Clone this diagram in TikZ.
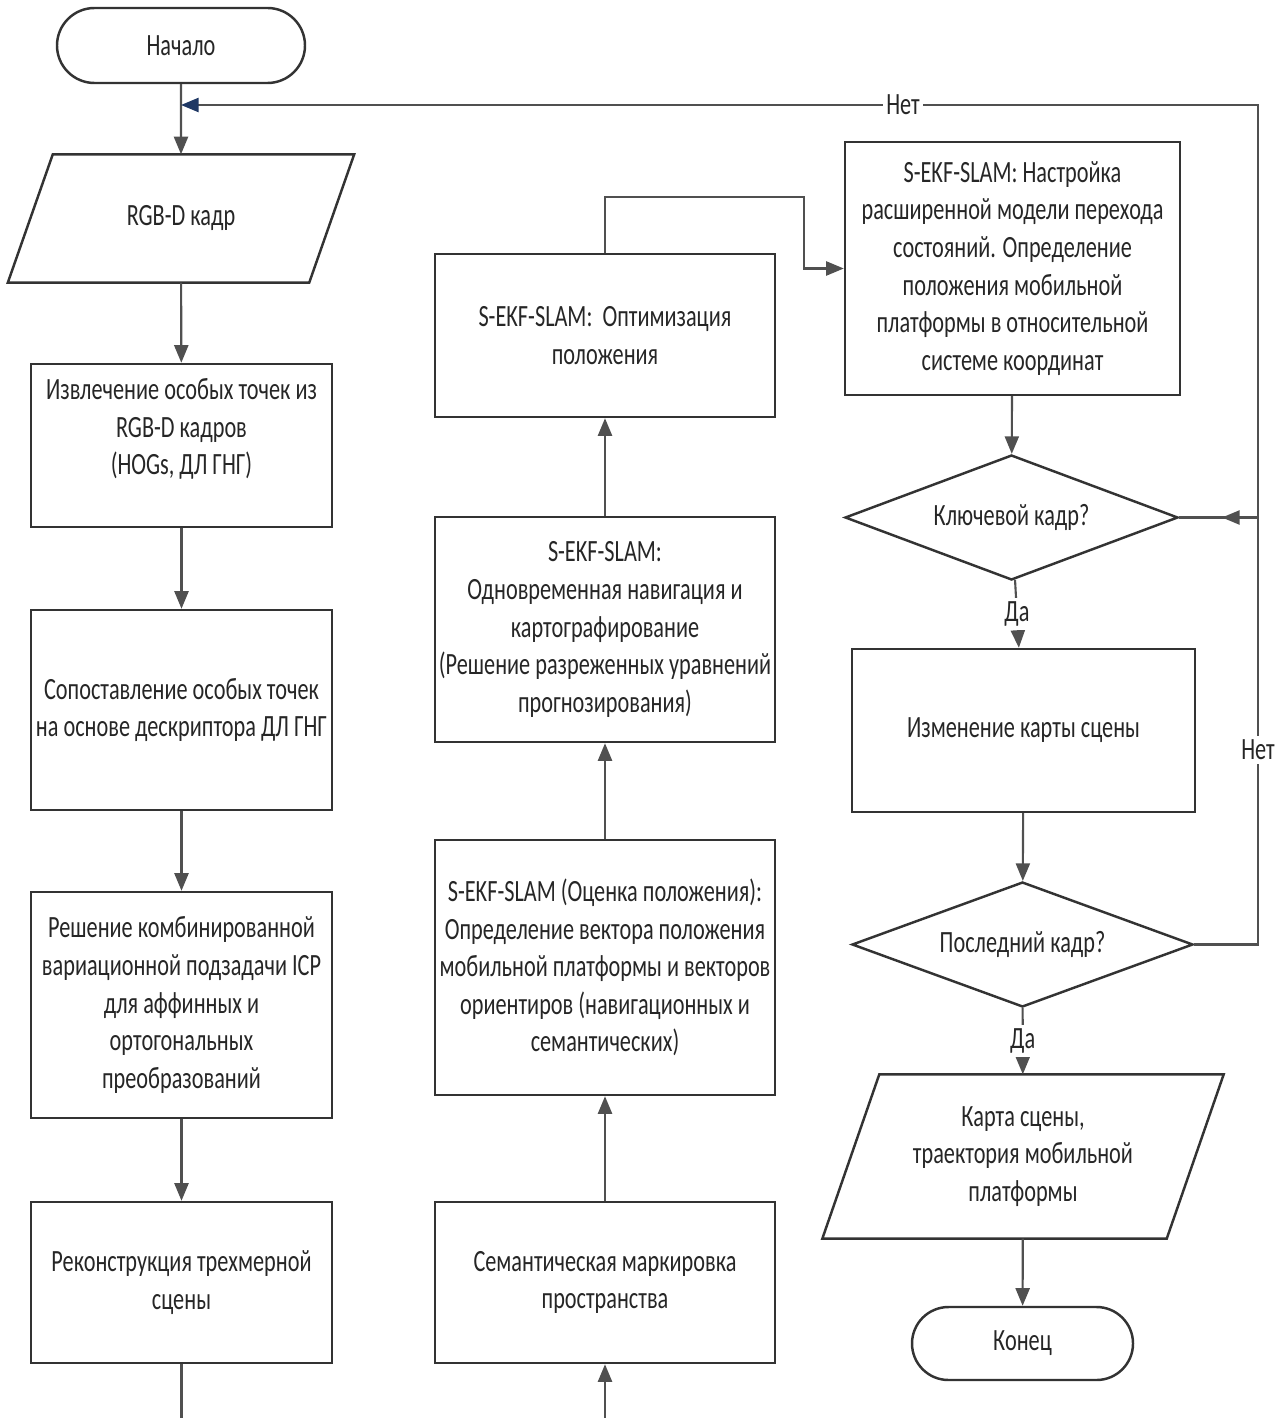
\documentclass[tikz,border=0pt]{standalone}
\usepackage{fontspec}
\setmainfont{Carlito}[FakeStretch=0.72]
\usepackage{tikz}
\usetikzlibrary{
	arrows.meta,
	positioning,
	shapes.geometric,
	shapes.misc
}
\usepackage{xcolor}
\definecolor{linegray}{RGB}{80,80,80}
\definecolor{tipnavy}{RGB}{31,56,100}

\begin{document}
\begin{tikzpicture}[
		font=\fontsize{8.8pt}{10.7pt}\selectfont,
		block/.style={draw=black!80, line width=0.7pt, rectangle, align=center, inner sep=0pt, text=black!85},
		terminal/.style={draw=black!80, line width=0.7pt, rounded rectangle, inner sep=0pt, text=black!85},
		datablock/.style={rectangle, align=center, inner sep=0pt, text=black!85,
			append after command={\pgfextra{\let\ionode\tikzlastnode
				\draw[draw=black!80, line width=0.7pt]
				([xshift=-#1]\ionode.south west) -- ([xshift=-#1]\ionode.south east)
				-- ([xshift=#1]\ionode.north east) -- ([xshift=#1]\ionode.north west) -- cycle;}}},
		decision/.style={draw=black!80, line width=0.7pt, diamond, aspect=2.66, inner sep=0pt, text=black!85},
		line/.style={draw=linegray, line width=0.6pt},
		flow/.style={line, -{Triangle[length=5pt,width=4pt]}},
		tag/.style={fill=white, inner sep=1pt, text=black!85}
	]
		
		\useasboundingbox (0,0) rectangle (12.84,-14.18);
		
		% left column
		\node[terminal, minimum width=2.48cm, minimum height=0.75cm] (start) at (1.81,-0.455) {Начало};
		\node[datablock=0.225cm, minimum width=3.0cm, minimum height=1.27cm] (rgbd) at (1.81,-2.185) {RGB-D кадр};
		\node[block, minimum width=3.01cm, minimum height=1.63cm] (extract) at (1.815,-4.455)
		{Извлечение особых точек из\\RGB-D кадров\\(HOGs, ДЛ ГНГ)\\ \phantom{x}};
		\node[block, minimum width=3.01cm, minimum height=2.0cm] (match) at (1.815,-7.10)
		{Сопоставление особых точек\\на основе дескриптора ДЛ ГНГ};
		\node[block, minimum width=3.01cm, minimum height=2.26cm] (icp) at (1.815,-10.05)
		{Решение комбинированной\\вариационной подзадачи ICP\\для аффинных и\\ортогональных\\преобразований};
		\node[block, minimum width=3.01cm, minimum height=1.61cm] (recon) at (1.815,-12.825)
		{Реконструкция трехмерной\\сцены};
		
		% middle column
		\node[block, minimum width=3.40cm, minimum height=1.63cm] (optim) at (6.05,-3.355)
		{S-EKF-SLAM:~~Оптимизация\\положения};
		\node[block, minimum width=3.40cm, minimum height=2.25cm] (slam) at (6.05,-6.295)
		{S-EKF-SLAM:\\Одновременная навигация и\\картографирование\\(Решение разреженных уравнений\\прогнозирования)};
		\node[block, minimum width=3.40cm, minimum height=2.55cm] (estim) at (6.05,-9.675)
		{S-EKF-SLAM (Оценка положения):\\Определение вектора положения\\мобильной платформы и векторов\\ориентиров (навигационных и\\семантических)};
		\node[block, minimum width=3.40cm, minimum height=1.61cm] (sem) at (6.05,-12.825)
		{Семантическая маркировка\\пространства};
		
		% right column
		\node[block, minimum width=3.35cm, minimum height=2.53cm] (tune) at (10.125,-2.685)
		{S-EKF-SLAM: Настройка\\расширенной модели перехода\\состояний. Определение\\положения мобильной\\платформы в относительной\\системе координат};
		\node[decision, minimum width=3.33cm, minimum height=1.25cm] (key) at (10.115,-5.175) {Ключевой кадр?};
		\node[block, minimum width=3.43cm, minimum height=1.63cm] (mapupd) at (10.235,-7.305) {Изменение карты сцены};
		\node[decision, minimum width=3.41cm, minimum height=1.25cm] (last) at (10.225,-9.445) {Последний кадр?};
		\node[datablock=0.285cm, minimum width=3.43cm, minimum height=1.63cm] (result) at (10.23,-11.565)
		{Карта сцены,\\траектория мобильной\\платформы};
		\node[terminal, minimum width=2.21cm, minimum height=0.73cm] (stop) at (10.225,-13.435) {Конец};
		
		\coordinate (merge) at (1.81,-1.05);
		\coordinate (rtop) at (12.58,-1.05);
		\coordinate (rjoin) at (12.58,-5.175);
		\coordinate (keyin) at (12.22,-5.175);
		\coordinate (leftend) at (1.815,-14.18);
		\coordinate (midend) at (6.05,-14.18);
		
		\draw[flow] (start) -- (rgbd);
		\draw[flow] (rgbd) -- (extract);
		\draw[flow] (extract) -- (match);
		\draw[flow] (match) -- (icp);
		\draw[flow] (icp) -- (recon);
		\draw[line] (recon) -- (leftend);
		
		\draw[flow] (midend) -- (sem);
		\draw[flow] (sem) -- (estim);
		\draw[flow] (estim) -- (slam);
		\draw[flow] (slam) -- (optim);
		\draw[flow] (optim.north) -- ++(0,0.56) -| ([xshift=-0.4cm]tune.west) -- (tune.west);
		
		\draw[flow] (tune) -- (key);
		\draw[flow] (key) -- node[tag] (yes1) {Да} (mapupd);
		\draw[flow] (mapupd) -- (last);
		\draw[flow] (last) -- node[tag] (yes2) {Да} (result);
		\draw[flow] (result) -- (stop);
		
		\draw[line] (key.east) -- (rjoin);
		\draw[flow] (rjoin) -- (keyin);
		\draw[line, -{Triangle[length=5pt,width=4pt,color=tipnavy]}] (last.east) -| (rtop) -- (merge);
		\node[tag] (no1) at (9.03,-1.05) {Нет};
		\node[tag] (no2) at (12.58,-7.5) {Нет};
		
	\end{tikzpicture}
\end{document}
